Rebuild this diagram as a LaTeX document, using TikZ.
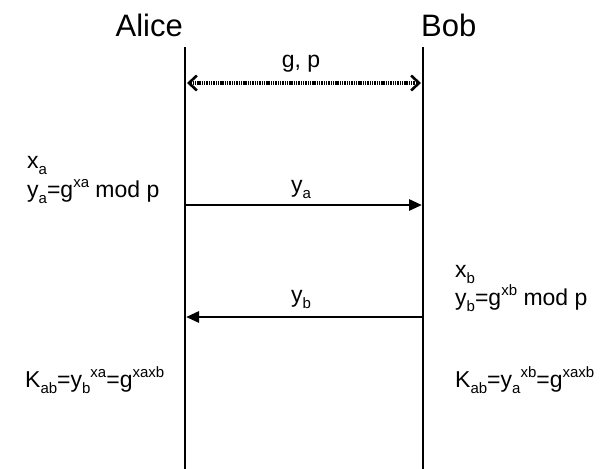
\documentclass[tikz,border=0pt]{standalone}
\usepackage{fontspec}
\setmainfont{Liberation Sans}
\usetikzlibrary{arrows.meta}
\newcommand\mysub[1]{\raisebox{-0.28em}{\fontsize{15}{15}\selectfont #1}}
\newcommand\mysup[1]{\raisebox{0.4em}{\fontsize{15}{15}\selectfont #1}}
\tikzset{
  lifeline/.style={line width=2.8pt},
  msg/.style={line width=2.8pt,-{Triangle[length=13pt,width=11pt]}},
  shared/.style={line width=3.2pt,dash pattern=on 1.4pt off 0.9pt,{Straight Barb[length=8pt,width=15pt,line width=2.6pt]}-{Straight Barb[length=8pt,width=15pt,line width=2.6pt]}},
  party/.style={inner sep=0pt,font=\fontsize{31}{34}\selectfont},
  txt/.style={inner sep=0pt,font=\fontsize{23}{27}\selectfont,anchor=base west},
  lbl/.style={inner sep=0pt,font=\fontsize{23}{27}\selectfont,anchor=base}
}
\begin{document}
\begin{tikzpicture}[x=1pt,y=-1pt]
\useasboundingbox (0,0) rectangle (603,469);
% parties
\node[party,anchor=base east] (alice) at (183,36) {Alice};
\node[party,anchor=base west] (bob) at (421,36) {Bob};
% lifelines
\coordinate (aT) at (185,47);
\coordinate (aB) at (185,469);
\coordinate (bT) at (423,47);
\coordinate (bB) at (423,469);
\draw[lifeline] (aT) -- (aB);
\draw[lifeline] (bT) -- (bB);
% shared parameters
\coordinate (a1) at (187,83);
\coordinate (b1) at (421,83);
\draw[shared] (a1) -- (b1);
\node[lbl] (gp) at (301,67) {g, p};
% y_a
\coordinate (a2) at (186,205);
\coordinate (b2) at (422,205);
\draw[msg] (a2) -- (b2);
\node[lbl] (ya) at (301,192) {y\mysub{a}};
% y_b
\coordinate (b3) at (422,317);
\coordinate (a3) at (186,317);
\draw[msg] (b3) -- (a3);
\node[lbl] (yb) at (301,302) {y\mysub{b}};
% Alice computations
\node[txt] (xa) at (27,168) {x\mysub{a}};
\node[txt] (yadef) at (27,197) {y\mysub{a}=g\mysup{xa} mod p};
\node[txt] (ka) at (25,387) {K\mysub{ab}=y\mysub{b}\mysup{xa}=g\mysup{xaxb}};
% Bob computations
\node[txt] (xb) at (455,277) {x\mysub{b}};
\node[txt] (ybdef) at (455,305) {y\mysub{b}=g\mysup{xb} mod p};
\node[txt] (kb) at (455,387) {K\mysub{ab}=y\mysub{a}\mysup{xb}=g\mysup{xaxb}};
\end{tikzpicture}
\end{document}
